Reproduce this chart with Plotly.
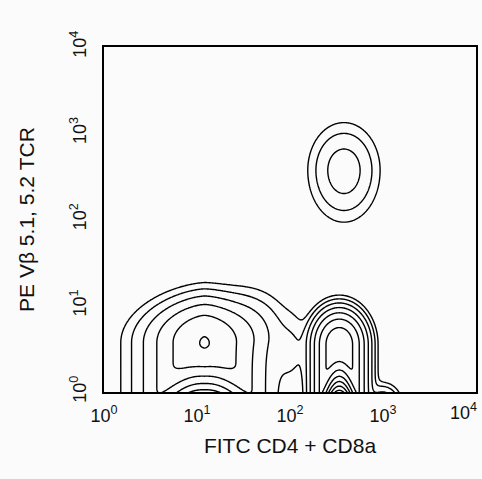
import numpy as np
import plotly.graph_objects as go

# ---- data: event-density clusters (log10 units) ----
cluster_names = ["Vb5+ T cells", "double-neg", "Vb5- T cells", "shoulder", "bridge", "axis lobe"]
center_x = [2.58, 1.08, 2.53, 1.55, 2.02, 3.00]   # log10 FITC
center_y = [2.57, 0.57, 0.55, 0.80, 0.45, -0.15]  # log10 PE
spread_x = [0.246, 0.327, 0.16, 0.30, 0.15, 0.12]
shape_x = [2.0, 1.6, 2.0, 2.0, 2.0, 2.0]
spread_y_top = [0.35, 0.31, 0.22, 0.30, 0.35, 0.15]
spread_y_bottom = [0.38, 0.27, 0.22, 0.30, 0.35, 0.15]
bottom_bend = [0.0, 2.0, 12.0, 0.0, 0.0, 0.0]
log_peak = [2.5, 5.05, 6.8, 1.5, 1.0, 3.0]

contour_levels = [0, 7, 1]             # start, end, step (log density)

tick_vals = [1, 10, 100, 1000, 10000]
tick_text = ["10<sup>0</sup>", "10<sup>1</sup>", "10<sup>2</sup>", "10<sup>3</sup>", "10<sup>4</sup>"]
x_title = "FITC CD4 + CD8a"
y_title = "PE Vβ 5.1, 5.2 TCR"

# ---- density grid ----
lx = np.arange(0.0, 4.0001, 0.01)
ly = np.arange(-0.06, 4.0001, 0.01)
X, Y = np.meshgrid(lx, ly)
dens = np.zeros_like(X)
for cx, cy, sx, qx, syt, syb, b, a in zip(center_x, center_y, spread_x, shape_x,
                                          spread_y_top, spread_y_bottom, bottom_bend, log_peak):
    dx = X - cx
    up = np.maximum(Y - cy, 0) / syt
    down = np.maximum(cy - b * dx ** 2 - Y, 0) / syb
    lnc = a - np.abs(dx / sx) ** qx - up ** 2 - down ** 2
    dens += np.exp(lnc)
Z = np.log(dens + 1e-30)

fig = go.Figure(go.Contour(
    x=10 ** lx, y=10 ** ly, z=Z,
    contours=dict(start=contour_levels[0], end=contour_levels[1], size=contour_levels[2], coloring="lines"),
    colorscale=[[0, "black"], [1, "black"]],
    showscale=False,
    line=dict(width=1.4, smoothing=0),
    hoverinfo="skip",
))

font_family = "Liberation Sans, Arial, sans-serif"
tick_font = dict(size=18, color="#111", family=font_family)
axis_common = dict(
    type="log", range=[0, 4], tickvals=tick_vals,
    showgrid=False, zeroline=False, showline=True, linecolor="black", linewidth=2,
    mirror=True, ticks="outside", tickcolor="rgba(0,0,0,0)",
    tickfont=tick_font,
)
# last x label is right-aligned to the frame edge (drawn as an annotation)
fig.update_xaxes(**axis_common, ticklen=6, ticktext=tick_text[:-1] + [""],
                 title=dict(text=x_title, font=dict(size=21, color="#111", family=font_family), standoff=14))
fig.update_yaxes(**axis_common, ticklen=9, tickangle=-90, ticktext=tick_text,
                 title=dict(text=y_title, font=dict(size=21, color="#111", family=font_family), standoff=27))
fig.add_annotation(text=tick_text[-1], x=np.log10(tick_vals[-1]), xref="x", y=0, yref="paper",
                   xanchor="right", yanchor="top", xshift=3, yshift=-6,
                   showarrow=False, font=tick_font)
fig.update_layout(
    width=482, height=479,
    margin=dict(l=104, r=6, t=47, b=87, autoexpand=False),
    paper_bgcolor="#fbfbfb", plot_bgcolor="#fbfbfb",
    showlegend=False,
)
fig.write_html("out.html", config={"displayModeBar": False},
               post_script="document.body.style.margin='0';")
